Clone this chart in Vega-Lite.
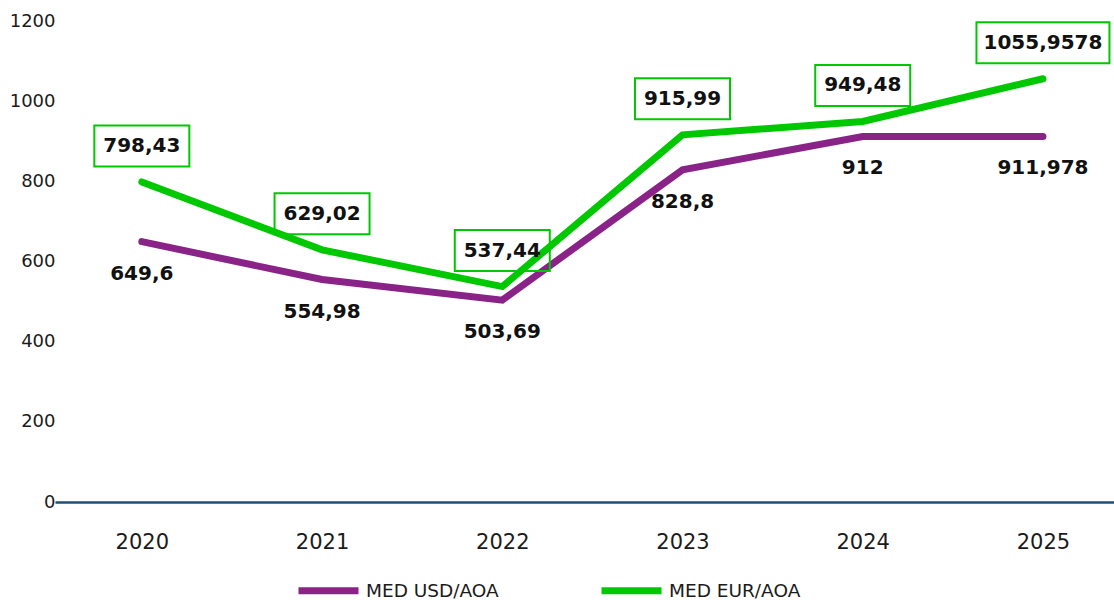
{
  "$schema": "https://vega.github.io/schema/vega-lite/v6.json",
  "width": 1059,
  "height": 481,
  "autosize": {"type": "none"},
  "padding": {"left": 55, "top": 21, "right": 0, "bottom": 98},
  "background": "#ffffff",
  "config": {
    "font": "DejaVu Sans",
    "view": {"stroke": null}
  },
  "data": {
    "values": [
      {"year": "2020", "series": "MED USD/AOA", "value": 649.6, "label": "649,6"},
      {"year": "2021", "series": "MED USD/AOA", "value": 554.98, "label": "554,98"},
      {"year": "2022", "series": "MED USD/AOA", "value": 503.69, "label": "503,69"},
      {"year": "2023", "series": "MED USD/AOA", "value": 828.8, "label": "828,8"},
      {"year": "2024", "series": "MED USD/AOA", "value": 912, "label": "912"},
      {"year": "2025", "series": "MED USD/AOA", "value": 911.978, "label": "911,978"},
      {"year": "2020", "series": "MED EUR/AOA", "value": 798.43, "label": "798,43"},
      {"year": "2021", "series": "MED EUR/AOA", "value": 629.02, "label": "629,02"},
      {"year": "2022", "series": "MED EUR/AOA", "value": 537.44, "label": "537,44"},
      {"year": "2023", "series": "MED EUR/AOA", "value": 915.99, "label": "915,99"},
      {"year": "2024", "series": "MED EUR/AOA", "value": 949.48, "label": "949,48"},
      {"year": "2025", "series": "MED EUR/AOA", "value": 1055.9578, "label": "1055,9578"}
    ]
  },
  "encoding": {
    "x": {
      "field": "year",
      "type": "ordinal",
      "scale": {"type": "point", "padding": 0.438, "align": 0.55},
      "axis": {
        "title": null,
        "labelAngle": 0,
        "ticks": false,
        "domain": true,
        "domainColor": "#1F4E79",
        "domainWidth": 2.5,
        "labelFontSize": 21,
        "labelColor": "#1b1b1b",
        "labelPadding": 29,
        "grid": false
      }
    },
    "y": {
      "field": "value",
      "type": "quantitative",
      "scale": {"domain": [0, 1200], "nice": false},
      "axis": {
        "title": null,
        "values": [0, 200, 400, 600, 800, 1000, 1200],
        "format": "d",
        "ticks": false,
        "domain": false,
        "grid": false,
        "labelFontSize": 18,
        "labelColor": "#1b1b1b",
        "labelPadding": 0
      }
    }
  },
  "layer": [
    {
      "mark": {"type": "line", "strokeWidth": 7, "strokeCap": "round"},
      "encoding": {
        "color": {
          "field": "series",
          "type": "nominal",
          "sort": ["MED USD/AOA", "MED EUR/AOA"],
          "scale": {"domain": ["MED USD/AOA", "MED EUR/AOA"], "range": ["#8A2387", "#00C800"]},
          "legend": {
            "title": null,
            "orient": "none",
            "direction": "horizontal",
            "legendX": 240,
            "legendY": 536,
            "padding": 0,
            "symbolType": "stroke",
            "symbolSize": 3600,
            "symbolStrokeWidth": 7,
            "labelFontSize": 18.5,
            "labelColor": "#1b1b1b",
            "labelOffset": 4,
            "columnPadding": 88
          }
        }
      }
    },
    {
      "transform": [{"filter": "datum.series == 'MED EUR/AOA' && datum.year != '2025'"}],
      "mark": {
        "type": "point",
        "shape": "M-1,-0.4316H1V0.4316H-1Z",
        "size": 9025,
        "filled": false,
        "stroke": "#00C800",
        "strokeWidth": 2,
        "opacity": 1,
        "yOffset": -36
      }
    },
    {
      "transform": [{"filter": "datum.series == 'MED EUR/AOA' && datum.year == '2025'"}],
      "mark": {
        "type": "point",
        "shape": "M-1,-0.308H1V0.308H-1Z",
        "size": 17689,
        "filled": false,
        "stroke": "#00C800",
        "strokeWidth": 2,
        "opacity": 1,
        "yOffset": -36
      }
    },
    {
      "transform": [{"filter": "datum.series == 'MED EUR/AOA'"}],
      "mark": {"type": "text", "dy": -36, "fontSize": 20, "fontWeight": "bold", "color": "#111111", "baseline": "middle"},
      "encoding": {"text": {"field": "label"}}
    },
    {
      "transform": [{"filter": "datum.series == 'MED USD/AOA'"}],
      "mark": {"type": "text", "dy": 32, "fontSize": 20, "fontWeight": "bold", "color": "#111111", "baseline": "middle"},
      "encoding": {"text": {"field": "label"}}
    }
  ]
}
